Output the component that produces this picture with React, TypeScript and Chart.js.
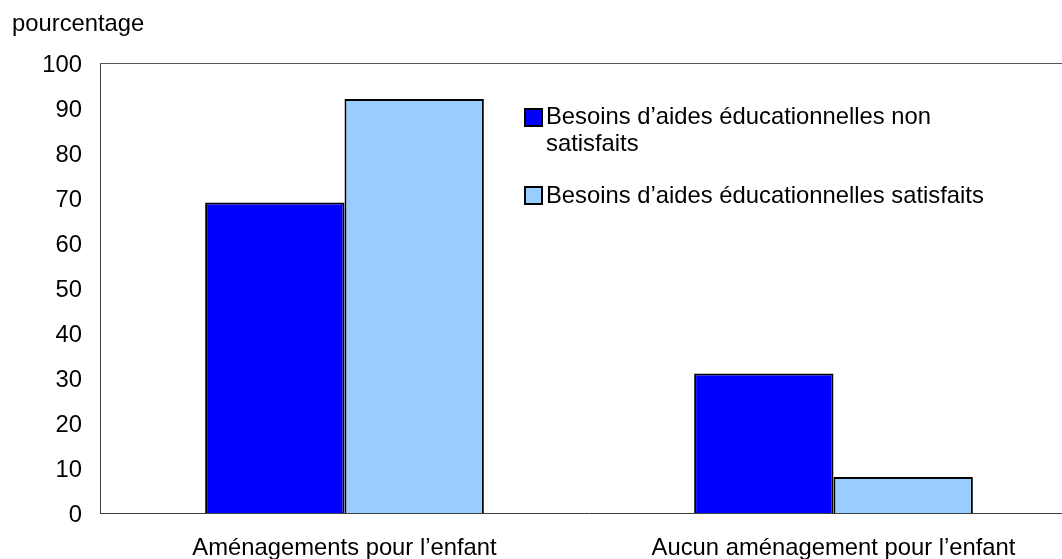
import React, { useEffect, useRef } from 'react';
import { Chart, registerables } from 'chart.js';

Chart.register(...registerables);

const categories = ['Aménagements pour l’enfant', 'Aucun aménagement pour l’enfant'];
const unmetNeeds = [69, 31];
const metNeeds = [92, 8];
const seriesNames = ['Besoins d’aides éducationnelles non satisfaits', 'Besoins d’aides éducationnelles satisfaits'];
const legendLines = [['Besoins d’aides éducationnelles non', 'satisfaits'], ['Besoins d’aides éducationnelles satisfaits']];
const yTickValues = [0, 10, 20, 30, 40, 50, 60, 70, 80, 90, 100];
const axisTitle = 'pourcentage';

const FAMILY = "'Liberation Sans', Arial, Helvetica, sans-serif";
const FONT_SIZE = 23.8;
const COLORS = ['#0000FF', '#99CCFF'];

const overlayPlugin = {
  id: 'overlay',
  afterDraw(chart: any) {
    const { ctx, chartArea } = chart;
    ctx.save();
    // top frame line
    ctx.strokeStyle = '#555555';
    ctx.lineWidth = 1;
    ctx.beginPath();
    ctx.moveTo(chartArea.left, Math.round(chartArea.top) + 0.5);
    ctx.lineTo(chartArea.right, Math.round(chartArea.top) + 0.5);
    ctx.stroke();

    ctx.font = `${FONT_SIZE}px ${FAMILY}`;
    ctx.fillStyle = '#000000';
    ctx.textAlign = 'left';
    ctx.textBaseline = 'alphabetic';
    ctx.fillText(axisTitle, 12, 31);

    // legend
    const itemBaselines = [[124, 151], [203]];
    const boxTops = [108, 186];
    chart.data.datasets.forEach((ds: any, i: number) => {
      ctx.fillStyle = ds.backgroundColor;
      ctx.fillRect(525, boxTops[i] + 1, 17, 17);
      ctx.strokeStyle = '#000000';
      ctx.lineWidth = 2;
      ctx.strokeRect(525, boxTops[i] + 1, 17, 17);
      ctx.fillStyle = '#000000';
      legendLines[i].forEach((line, j) => {
        ctx.fillText(line, 546, itemBaselines[i][j]);
      });
    });
    ctx.restore();
  },
};

export default function App() {
  const canvasRef = useRef<HTMLCanvasElement | null>(null);

  useEffect(() => {
    if (!canvasRef.current) return;
    const chart = new Chart(canvasRef.current, {
      type: 'bar',
      data: {
        labels: categories,
        datasets: [
          {
            label: seriesNames[0],
            data: unmetNeeds,
            backgroundColor: COLORS[0],
            borderColor: '#000000',
            borderWidth: 2,
            categoryPercentage: 0.57,
            barPercentage: 1,
          },
          {
            label: seriesNames[1],
            data: metNeeds,
            backgroundColor: COLORS[1],
            borderColor: '#000000',
            borderWidth: 2,
            categoryPercentage: 0.57,
            barPercentage: 1,
          },
        ],
      },
      options: {
        animation: false,
        responsive: true,
        maintainAspectRatio: false,
        layout: { padding: { top: 63, right: 2, bottom: 0, left: 0 } },
        plugins: {
          legend: { display: false },
          tooltip: { enabled: false },
          title: { display: false },
        },
        scales: {
          x: {
            grid: { display: false, drawTicks: false },
            border: { display: true, color: '#404040', width: 1 },
            ticks: {
              color: '#000000',
              font: { family: FAMILY, size: FONT_SIZE },
              padding: 21,
              maxRotation: 0,
              autoSkip: false,
            },
            afterFit: (s: any) => {
              s.height = 46;
            },
          },
          y: {
            min: 0,
            max: 100,
            grid: { display: false, drawTicks: false },
            border: { display: true, color: '#404040', width: 1 },
            afterBuildTicks: (s: any) => {
              s.ticks = yTickValues.map((v) => ({ value: v }));
            },
            ticks: {
              color: '#000000',
              font: { family: FAMILY, size: FONT_SIZE },
              padding: 18,
              labelOffset: 2,
            },
            afterFit: (s: any) => {
              s.width = 100;
            },
          },
        },
      },
      plugins: [overlayPlugin],
    });
    return () => chart.destroy();
  }, []);

  return (
    <div style={{ position: 'absolute', left: 0, top: 0, width: 1062, height: 559, overflow: 'hidden', background: '#ffffff' }}>
      <div style={{ position: 'relative', width: 1080, height: 559 }}>
        <canvas ref={canvasRef} />
      </div>
    </div>
  );
}
